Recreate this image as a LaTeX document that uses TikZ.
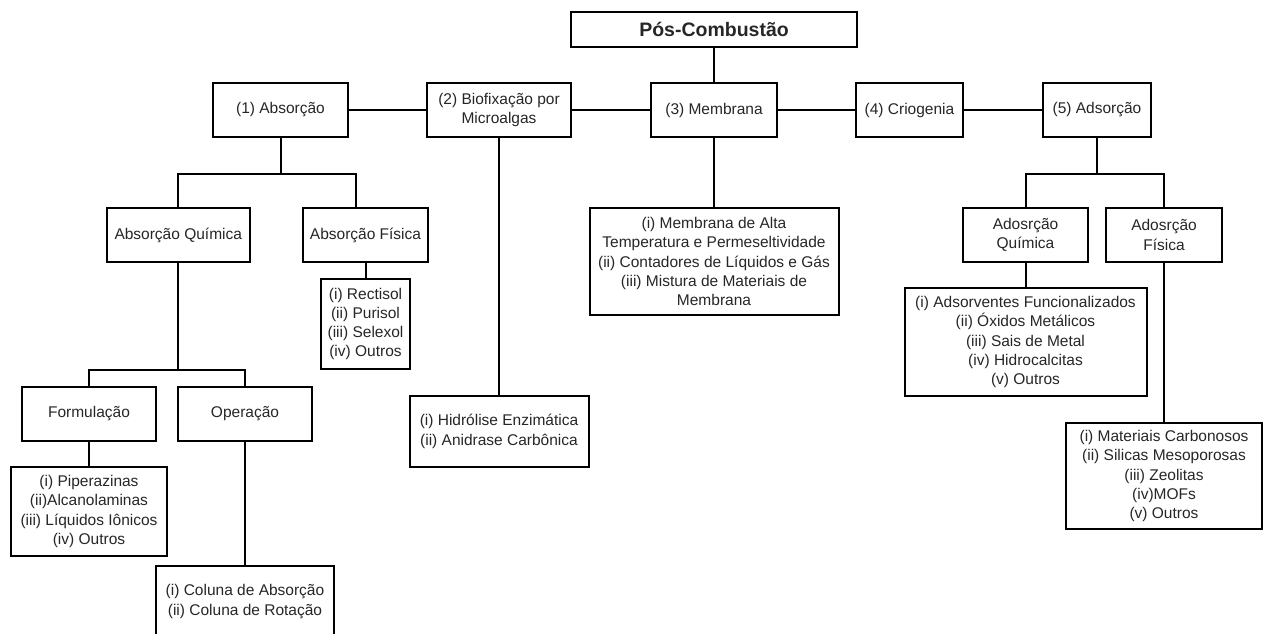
\documentclass[tikz,border=0pt]{standalone}
\usepackage{fontspec}
\setmainfont{Liberation Sans}
\begin{document}
\begin{tikzpicture}[x=1pt,y=-1pt,
  box/.style={draw,line width=2pt,align=center,inner sep=0pt,text=black!85,
    font=\fontsize{15.5}{19.3}\selectfont},
  wire/.style={line width=2pt}]
\useasboundingbox (0,0) rectangle (1263,633);
\node[box,minimum width=286pt,minimum height=35pt,font=\fontsize{19.5}{23}\selectfont\bfseries] (post) at (714,29.5) {Pós-Combustão};
% first row
\node[box,minimum width=135pt,minimum height=54pt] (absr) at (280.5,110) {(1) Absorção};
\node[box,minimum width=144pt,minimum height=54pt] (biof) at (499,110) {(2) Biofixação por\\Microalgas};
\node[box,minimum width=126pt,minimum height=54pt] (memb) at (714,110) {(3) Membrana};
\node[box,minimum width=107pt,minimum height=54pt] (crio) at (909.5,110) {(4) Criogenia};
\node[box,minimum width=108pt,minimum height=54pt] (adsr) at (1097,110) {(5) Adsorção};
% second row
\node[box,minimum width=143.5pt,minimum height=54pt] (absq) at (178.25,235) {Absorção Química};
\node[box,minimum width=125pt,minimum height=54pt] (absf) at (365.5,235) {Absorção Física};
\node[box,minimum width=125pt,minimum height=54pt] (adsq) at (1025.5,235) {Adosrção\\Química};
\node[box,minimum width=116pt,minimum height=54pt] (adsf) at (1164,235) {Adosrção\\Física};
\node[box,minimum width=134pt,minimum height=54pt] (form) at (89,414) {Formulação};
\node[box,minimum width=134pt,minimum height=54pt] (oper) at (245,414) {Operação};
% lists
\node[box,minimum width=89pt,minimum height=90pt] (rect) at (365.5,324) {(i) Rectisol\\(ii) Purisol\\(iii) Selexol\\(iv) Outros};
\node[box,minimum width=179pt,minimum height=71pt] (hidr) at (499,431.5) {(i) Hidrólise Enzimática\\(ii) Anidrase Carbônica};
\node[box,minimum width=249pt,minimum height=107pt] (membl) at (714,261.5) {(i) Membrana de Alta\\Temperatura e Permeseltividade\\(ii) Contadores de Líquidos e Gás\\(iii) Mistura de Materiais de\\Membrana};
\node[box,minimum width=156pt,minimum height=89pt] (forml) at (89,511.5) {(i) Piperazinas\\(ii)Alcanolaminas\\(iii) Líquidos Iônicos\\(iv) Outros};
\node[box,minimum width=178pt,minimum height=71pt] (operl) at (245,601.5) {(i) Coluna de Absorção\\(ii) Coluna de Rotação};
\node[box,minimum width=242pt,minimum height=108pt] (adsql) at (1025.5,342) {(i) Adsorventes Funcionalizados\\(ii) Óxidos Metálicos\\(iii) Sais de Metal\\(iv) Hidrocalcitas\\(v) Outros};
\node[box,minimum width=196pt,minimum height=106pt] (adsfl) at (1164,476) {(i) Materiais Carbonosos\\(ii) Silicas Mesoporosas\\(iii) Zeolitas\\(iv)MOFs\\(v) Outros};
% connectors
\draw[wire] (post) -- (memb);
\draw[wire] (absr) -- (biof) (biof) -- (memb) (memb) -- (crio) (crio) -- (adsr);
\draw[wire] (absr.south) -- ++(0,36) coordinate (absj);
\draw[wire] (absq.north) |- (absj) -| ([xshift=-9.5pt]absf.north);
\draw[wire] (absq.south) -- ++(0,107) coordinate (absqj);
\draw[wire] (form.north) |- (absqj) -| (oper.north);
\draw[wire] (adsr.south) -- ++(0,36) coordinate (adsj);
\draw[wire] (adsq.north) |- (adsj) -| (adsf.north);
\draw[wire] (absf) -- (rect);
\draw[wire] (biof) -- (hidr);
\draw[wire] (memb) -- (membl);
\draw[wire] (form) -- (forml);
\draw[wire] (oper) -- (operl);
\draw[wire] (adsq) -- (adsql);
\draw[wire] (adsf) -- (adsfl);
\end{tikzpicture}
\end{document}
